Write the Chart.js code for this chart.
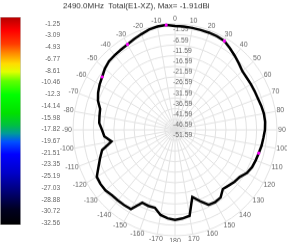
<!DOCTYPE html>
<html>
<head>
<meta charset="utf-8">
<script src="https://cdn.jsdelivr.net/npm/chart.js@4/dist/chart.umd.min.js"></script>
<style>
  html, body { margin: 0; padding: 0; background: #fff; }
  body { width: 287px; height: 242px; position: relative; overflow: hidden; }
  #polar { position: absolute; left: 0; top: 0; transform: scaleY(1.0386); transform-origin: 0 0; }
  #bar { position: absolute; left: 0; top: 0; }
</style>
</head>
<body>
<canvas id="polar" width="287" height="233"></canvas>
<canvas id="bar" width="60" height="242"></canvas>
<script>
// angle in degrees, clockwise from the top
const angleLabels = [
  0, 5, 10, 15, 20, 25, 30, 35, 40, 45, 50, 55, 60, 65, 70, 75, 80, 85,
  90, 95, 100, 105, 110, 115, 120, 125, 130, 135, 140, 145, 150, 155, 160, 165, 170, 175,
  180, -175, -170, -165, -160, -155, -150, -145, -140, -135, -130, -125, -120, -115, -110, -105,
  -100, -95, -90, -85, -80, -75, -70, -65, -60, -55, -50, -45, -40, -35, -30, -25, -20, -15, -10, -5
];

// Total(E1-XZ) gain, dBi
const gainDb = [
  -2.60, -2.65, -2.75, -2.80, -2.80, -2.90, -3.15, -4.60, -6.00, -7.30, -8.50, -8.70, -8.60, -8.50, -8.35, -7.80, -7.35, -7.25,
  -7.50, -8.10, -8.50, -9.10, -9.50, -9.90, -10.90, -12.80, -13.50, -14.40, -15.10, -12.60, -12.20, -12.60, -15.80, -18.80, -10.40, -9.60,
  -9.10, -9.70, -10.80, -13.50, -13.40, -13.60, -8.40, -8.20, -8.10, -7.90, -7.10, -7.00, -7.30, -10.20, -12.50, -14.60,
  -20.00, -16.80, -15.80, -14.30, -14.00, -13.60, -11.40, -10.00, -8.90, -8.00, -6.70, -5.80, -5.60, -5.40, -5.00, -4.30, -3.50, -2.55, -2.10, -1.91
];

// magenta markers on the curve
const markerAngles = [-5, -30, 30, -55, 105];

const ringTicks = [-51.59, -46.59, -41.59, -36.59, -31.59, -26.59, -21.59, -16.59, -11.59, -6.59, -1.59];

const colorbarTicks = [-1.25, -3.09, -4.93, -6.77, -8.61, -10.46, -12.3, -14.14, -15.98,
  -17.82, -19.67, -21.51, -23.35, -25.19, -27.03, -28.88, -30.72, -32.56];
const cbMin = -32.85;
const cbMax = -0.14;

const colorStops = [
  [0, '#b40000'], [0.066, '#ff0000'], [0.13, '#ff3c00'], [0.176, '#ff8c00'], [0.225, '#ffdc00'],
  [0.264, '#e0ff00'], [0.308, '#60ff00'], [0.374, '#00ff00'], [0.463, '#00e000'], [0.52, '#00c040'],
  [0.56, '#009a9a'], [0.6, '#0050ff'], [0.66, '#0000ff'], [0.75, '#0000c8'], [0.837, '#000078'],
  [0.925, '#000020'], [1, '#000000']
];

const FONT = '"Liberation Sans", Arial, sans-serif';
Chart.defaults.font.family = FONT;

const markerData = angleLabels.map((a, i) => (markerAngles.includes(a) ? gainDb[i] : null));

// ring values and angle labels, placed with the radial scale
const polarText = {
  id: 'polarText',
  beforeDatasetsDraw(chart) {
    const r = chart.scales.r;
    const ctx = chart.ctx;
    ctx.save();
    ctx.fillStyle = '#666';
    ctx.textBaseline = 'middle';
    ctx.font = '6.8px ' + FONT;
    ctx.textAlign = 'left';
    ringTicks.forEach(v => {
      const d = r.getDistanceFromCenterForValue(v);
      ctx.fillText(String(v), r.xCenter - 2, r.yCenter - d + 5.5);
    });
    ctx.font = '7px ' + FONT;
    ctx.textAlign = 'center';
    angleLabels.forEach((a, i) => {
      if (a % 10 !== 0) return;
      const t = r.getIndexAngle(i);
      const txt = String(a);
      const w = ctx.measureText(txt).width;
      const p = r.getPointPosition(i, r.drawingArea + 1);
      ctx.fillText(txt, p.x + Math.sin(t) * w / 2, p.y - Math.cos(t) * 3.6);
    });
    ctx.restore();
  }
};

new Chart(document.getElementById('polar'), {
  type: 'radar',
  data: {
    labels: angleLabels,
    datasets: [
      {
        data: markerData,
        showLine: false,
        fill: false,
        pointRadius: 1.6,
        pointBorderWidth: 0,
        pointBackgroundColor: '#ff00ff',
        borderColor: '#ff00ff'
      },
      {
        data: gainDb,
        fill: false,
        borderColor: '#000',
        borderWidth: 2.5,
        pointRadius: 0,
        tension: 0
      }
    ]
  },
  options: {
    responsive: false,
    animation: false,
    layout: { padding: { left: 63, right: 0, top: 0, bottom: 5.9 } },
    plugins: {
      legend: { display: false },
      tooltip: { enabled: false },
      title: {
        display: true,
        text: '2490.0MHz  Total(E1-XZ), Max= -1.91dBi',
        align: 'start',
        color: '#333',
        font: { size: 8, weight: 'normal' },
        padding: { top: 0.5, bottom: 13 }
      }
    },
    scales: {
      r: {
        min: -51.59,
        max: -1.59,
        afterBuildTicks: s => { s.ticks = ringTicks.map(v => ({ value: v })); },
        ticks: { display: false },
        pointLabels: { display: false },
        grid: { circular: true, color: '#e2e2e2' },
        angleLines: { color: c => (c.index % 2 ? 'rgba(0,0,0,0)' : '#e2e2e2') }
      }
    }
  },
  plugins: [polarText]
});

new Chart(document.getElementById('bar'), {
  type: 'bar',
  data: {
    labels: [''],
    datasets: [{
      data: [[cbMin, cbMax]],
      backgroundColor: c => {
        const a = c.chart.chartArea;
        if (!a) return null;
        const g = c.chart.ctx.createLinearGradient(0, a.top, 0, a.bottom);
        colorStops.forEach(([o, col]) => g.addColorStop(o, col));
        return g;
      },
      borderColor: '#c8c8c8',
      borderWidth: 1,
      borderSkipped: false,
      barPercentage: 1,
      categoryPercentage: 1
    }]
  },
  options: {
    responsive: false,
    animation: false,
    layout: { padding: { top: 15, left: 0, right: 0, bottom: 0 } },
    plugins: { legend: { display: false }, tooltip: { enabled: false } },
    scales: {
      x: { display: false },
      y: {
        position: 'right',
        min: cbMin,
        max: cbMax,
        grid: { display: false, drawTicks: false },
        border: { display: false },
        afterBuildTicks: s => { s.ticks = colorbarTicks.map(v => ({ value: v })); },
        afterFit: s => { s.width = 39; },
        ticks: {
          autoSkip: false,
          crossAlign: 'far',
          padding: 13,
          color: '#666',
          font: { size: 6.5 },
          callback: v => String(v)
        }
      }
    }
  }
});
</script>
</body>
</html>
